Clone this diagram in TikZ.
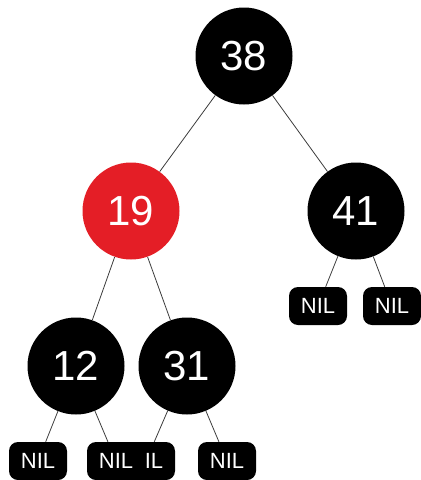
\documentclass[tikz,border=0pt]{standalone}
\usepackage{fontspec}
\setmainfont{Liberation Sans}
\usetikzlibrary{backgrounds}
\definecolor{rbred}{RGB}{228,30,38}
\definecolor{edgegray}{RGB}{60,60,60}

\begin{document}
\begin{tikzpicture}[
  x=1pt, y=-1pt,
  blacknode/.style={circle, fill=black, text=white, minimum size=97pt, inner sep=0pt, font=\fontsize{42}{42}\selectfont},
  rednode/.style={blacknode, fill=rbred},
  nilnode/.style={fill=black, rounded corners=9pt, text=white, minimum width=58pt, minimum height=38pt, inner sep=0pt, font=\fontsize{22}{22}\selectfont},
  edge/.style={edgegray, line width=0.8pt},
]
\useasboundingbox (0,0) rectangle (421,480);

% === inner nodes ===
\node[blacknode] (n38) at (244, 56) {38};
\node[rednode]   (n19) at (131, 211) {19};
\node[blacknode] (n41) at (356, 211) {41};
\node[blacknode] (n12) at (76, 366) {12};
\node[blacknode] (n31) at (187, 366) {31};

% === leaves (31's before 12's, so 12's right leaf sits on top) ===
\node[nilnode] (nil41a) at (318, 306) {NIL};
\node[nilnode] (nil41b) at (392, 306) {NIL};
\node[nilnode] (nil31a) at (146, 461) {NIL};
\node[nilnode] (nil31b) at (227, 461) {NIL};
\node[nilnode] (nil12a) at (38, 461) {NIL};
\node[nilnode] (nil12b) at (116, 461) {NIL};

% === edges ===
\begin{scope}[on background layer]
\draw[edge] (n38) -- (n19);
\draw[edge] (n38) -- (n41);
\draw[edge] (n19) -- (n12);
\draw[edge] (n19) -- (n31);
\draw[edge] (n41) -- (nil41a);
\draw[edge] (n41) -- (nil41b);
\draw[edge] (n12) -- (nil12a);
\draw[edge] (n12) -- (nil12b);
\draw[edge] (n31) -- (nil31a);
\draw[edge] (n31) -- (nil31b);
\end{scope}
\end{tikzpicture}
\end{document}
